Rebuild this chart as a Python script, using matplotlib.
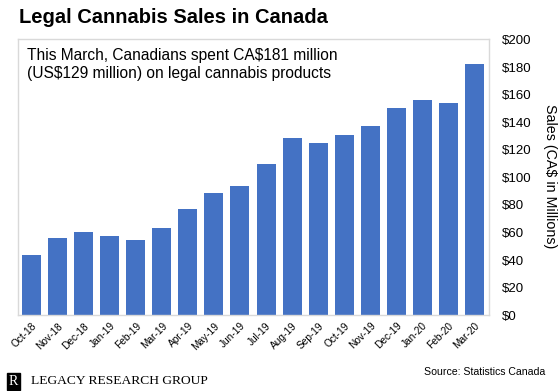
import matplotlib.pyplot as plt

months = ['Oct-18', 'Nov-18', 'Dec-18', 'Jan-19', 'Feb-19', 'Mar-19', 'Apr-19', 'May-19', 'Jun-19',
          'Jul-19', 'Aug-19', 'Sep-19', 'Oct-19', 'Nov-19', 'Dec-19', 'Jan-20', 'Feb-20', 'Mar-20']
sales = [44, 56, 60, 57.5, 54.5, 63, 77, 88.5, 94,
         110, 128.5, 125, 131, 137.5, 150, 156, 154, 182]
yticks = list(range(0, 201, 20))

plt.rcParams['font.family'] = ['Liberation Sans', 'DejaVu Sans']

fig = plt.figure(figsize=(5.6, 3.91), dpi=100)
ax = fig.add_axes([0.032, 0.194, 0.841, 0.705])

x = list(range(len(months)))
ax.bar(x, sales, width=0.73, color='#4472C4', zorder=2)
ax.set_xlim(-0.53, 17.56)
ax.set_ylim(0, 200)

for s in ax.spines.values():
    s.set_color('#d9d9d9')
    s.set_linewidth(1)

ax.yaxis.tick_right()
ax.set_yticks(yticks)
ax.set_yticklabels(['$%d' % v for v in yticks], fontsize=9.5)
ax.tick_params(axis='y', length=0, pad=9.5)
fig.text(0.983, 0.549, 'Sales (CA$ in Millions)', rotation=270, fontsize=10.3,
         ha='center', va='center')

ax.set_xticks(x)
ax.set_xticklabels(months, rotation=45, ha='right', rotation_mode='anchor', fontsize=7.3)
ax.tick_params(axis='x', length=0, pad=4)

ax.text(0.02, 0.97, 'This March, Canadians spent CA$181 million\n(US$129 million) on legal cannabis products',
        transform=ax.transAxes, fontsize=11.2, va='top', ha='left', linespacing=1.3)

fig.text(0.034, 0.955, 'Legal Cannabis Sales in Canada', fontsize=14.5, fontweight='bold',
         va='center', ha='left')
fig.text(0.973, 0.048, 'Source: Statistics Canada', fontsize=7.6, ha='right', va='center')
fig.text(0.016, 0.025, 'R', fontsize=10, family='Liberation Serif', color='white', ha='left', va='center',
         bbox=dict(boxstyle='square,pad=0.15', facecolor='black', edgecolor='black'))
fig.text(0.056, 0.025, 'LEGACY RESEARCH GROUP', fontsize=9.7, family='Liberation Serif',
         ha='left', va='center')

fig.savefig('out.png', dpi=100)
